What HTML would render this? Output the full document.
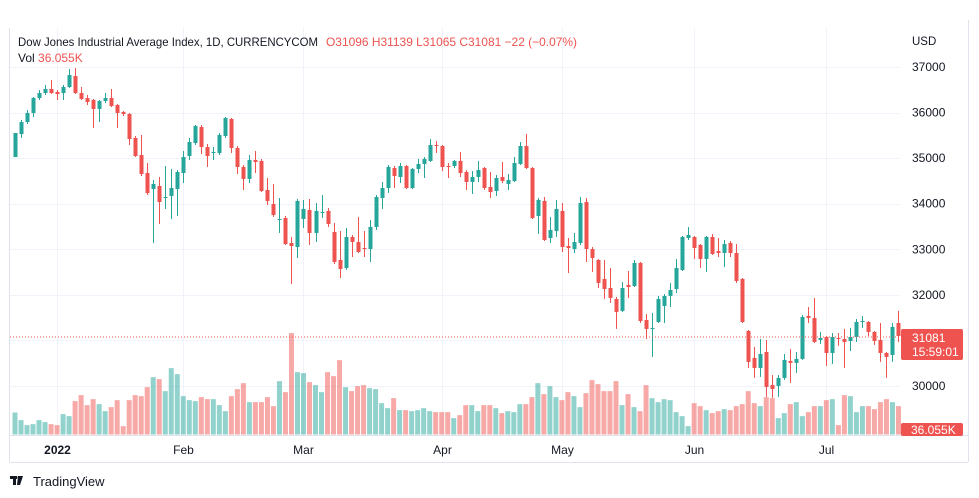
<!DOCTYPE html>
<html><head><meta charset="utf-8">
<style>
html,body{margin:0;padding:0;background:#fff;}
body{width:979px;height:498px;overflow:hidden;position:relative;font-family:"Liberation Sans",sans-serif;}
svg{position:absolute;left:0;top:0;}
</style></head>
<body>
<svg id="chart" width="979" height="498" viewBox="0 0 979 498">
  <rect x="0" y="0" width="979" height="498" fill="#ffffff"/>
  <g id="grid"></g>
  <g id="vols"></g>
  <g id="candles"></g>
  <line x1="10" y1="337" x2="901" y2="337" stroke="#ef5350" stroke-width="1" stroke-dasharray="1,2"/>
  <line x1="9.5" y1="28" x2="9.5" y2="462" stroke="#e0e3eb"/>
  <line x1="9.5" y1="435.5" x2="968" y2="435.5" stroke="#e0e3eb"/>
  <line x1="9.5" y1="462.5" x2="968" y2="462.5" stroke="#e0e3eb"/>
  <line x1="968.5" y1="20" x2="968.5" y2="462" stroke="#e0e3eb"/>
  <g id="yaxis"></g>
  <g id="xaxis"></g>
  <text x="912" y="45" font-size="11.5" fill="#131722">USD</text>
  <g>
    <rect x="901" y="329" width="62" height="31" rx="2" fill="#ef5350"/>
    <text x="912" y="342" font-size="12" fill="#fff">31081</text>
    <text x="912" y="356" font-size="12" fill="#fff">15:59:01</text>
  </g>
  <g>
    <rect x="901" y="423" width="62" height="13" rx="2" fill="#ef5350"/>
    <text x="911" y="434" font-size="12" fill="#fff">36.055K</text>
  </g>
  <g>
    <text x="18" y="46" font-size="12" fill="#131722" textLength="300" lengthAdjust="spacingAndGlyphs">Dow Jones Industrial Average Index, 1D, CURRENCYCOM</text>
    <text x="326" y="46" font-size="12" fill="#ef5350" textLength="251" lengthAdjust="spacingAndGlyphs">O31096  H31139  L31065  C31081  −22 (−0.07%)</text>
    <text x="18" y="62" font-size="12" fill="#131722">Vol <tspan fill="#ef5350">36.055K</tspan></text>
  </g>
  <g>
    <rect x="10" y="476" width="7" height="3" fill="#131722"/>
    <rect x="13" y="476" width="3" height="9" fill="#131722"/>
    <polygon points="18,476 23,476 20,485 17,485" fill="#131722"/>
    <circle cx="19" cy="477.5" r="1.5" fill="#131722"/>
    <text x="33" y="486" font-size="13" fill="#131722">TradingView</text>
  </g>
</svg>
<script>
const opens=[35025,35530,35793,35991,36319,36429,36518,36451,36429,36561,36802,36429,36319,36276,36079,36254,36319,36166,36013,35969,35442,35069,34674,34323,34389,34126,34170,34323,34674,35047,35332,35683,35244,35113,35113,35486,35859,35222,34806,34543,34960,34938,34301,33994,33643,33687,33138,33050,33665,33863,33358,33797,33841,33380,32766,32590,33270,33160,33028,33006,33490,34126,34345,34784,34587,34828,34345,34763,34872,34938,35288,35266,34828,34828,34938,34696,34477,34587,34784,34367,34279,34587,34433,34499,34872,35266,34784,33731,34060,33248,33402,33841,33072,33006,33138,34038,33006,32766,32349,32151,31910,31647,32217,32195,32700,31449,31252,31405,31756,31976,32129,32546,33248,33270,33094,32788,33270,32963,32919,33138,32919,32349,31208,30616,30396,30747,30023,30001,30177,30550,30506,30594,31537,31493,31010,31076,30725,31054,31032,30988,31076,31405,31405,31186,31010,30725,30681,31383,31096];
const highs=[35552,35837,36057,36341,36495,36605,36715,36495,36605,36956,36978,36561,36385,36298,36276,36429,36518,36188,36035,35991,35486,35508,34894,34521,34587,34828,34762,34740,35157,35442,35727,35727,35310,35244,35552,35903,35881,35266,34850,35069,35157,34982,34565,34433,34126,33731,33270,34104,34082,34104,34016,34191,33907,33577,33402,33468,33314,33709,33402,33643,34191,34477,34850,34828,34894,34850,34784,34982,35025,35420,35376,35288,34894,34960,35135,34740,34718,34938,34806,34696,34630,34916,34652,35025,35354,35530,34806,34126,34148,33709,34082,34016,33248,33358,34148,34126,33050,32788,32766,32590,31954,32283,32524,32766,32722,31581,31603,31976,32019,32261,32788,33292,33490,33292,33116,33292,33336,33248,33204,33182,33116,32371,31230,30857,31032,31010,30242,30242,30703,30813,30747,31559,31734,31932,31186,31098,31164,31164,31252,31274,31471,31537,31427,31208,31383,30747,31383,31647,31139];
const lows=[35025,35442,35749,35903,36276,36385,36407,36276,36276,36539,36407,36276,36166,35661,35793,36210,36122,35661,35925,35288,35025,34609,34191,33138,33555,33885,33665,33731,34455,34960,35288,35091,34806,34960,35069,35442,35113,34652,34301,34455,34674,34257,33972,33709,33358,33094,32239,32810,33468,33094,33160,33687,33490,32678,32371,32546,32831,32919,32831,32722,33424,33885,34235,34345,34455,34323,34323,34674,34565,34916,35113,34718,34565,34784,34587,34301,34213,34477,34301,34126,34170,34455,34301,34477,34850,34763,33665,33336,33182,33138,33270,32941,32480,32919,33094,32722,32502,32151,31910,31822,31252,31625,31932,32173,31383,31032,30638,31383,31383,31734,32041,32524,33204,32788,32590,32502,32875,32831,32612,32831,32261,31383,30396,30177,30199,29760,29738,29760,30133,30067,30286,30572,31383,30944,30922,30440,30484,30879,30396,30769,30966,31274,31098,30901,30528,30177,30528,30966,31065];
const closes=[35552,35793,35991,36319,36429,36518,36429,36407,36561,36824,36429,36298,36232,36079,36254,36319,36144,35991,35969,35420,35047,34652,34235,34433,34038,34148,34345,34696,35025,35354,35705,35244,35047,35135,35508,35881,35222,34806,34543,34960,34916,34279,34060,33753,33665,33116,33072,34060,33885,33358,33841,33819,33555,32722,32568,33270,33160,32941,33006,33490,34148,34345,34806,34608,34828,34345,34763,34872,34982,35288,35266,34806,34806,34938,34674,34477,34587,34740,34345,34257,34565,34499,34521,34894,35266,34784,33687,34082,33204,33424,33885,33050,33028,33160,34016,33006,32810,32261,32129,31932,31625,32151,32173,32700,31427,31252,31274,31910,31976,32107,32590,33270,33314,33028,32788,33270,32897,32919,33116,32919,32305,31405,30528,30396,30703,29979,29935,30177,30572,30506,30594,31515,31493,30966,31054,30725,31076,31032,30966,31076,31405,31427,31186,30988,30725,30638,31296,31098,31081];
const volumes=[242,158,103,114,158,136,114,103,224,202,367,433,323,389,334,257,301,378,92,378,433,422,521,631,609,477,730,664,422,378,367,411,389,389,323,257,422,499,565,356,356,356,411,312,587,466,1116,686,675,576,543,466,686,642,818,521,477,532,543,510,499,345,290,400,268,268,257,268,290,257,246,246,246,180,213,323,323,257,323,323,290,235,257,246,334,334,411,565,444,532,411,378,466,422,301,455,598,554,477,477,587,323,444,301,257,543,400,356,389,378,246,202,92,345,312,268,235,257,279,268,312,334,477,345,312,411,400,180,235,334,356,202,246,312,312,378,389,103,433,422,246,312,312,279,356,389,356,312,36];
const priceTicks=[30000,32000,33000,34000,35000,36000,37000];
const monthLabels=["2022","Feb","Mar","Apr","May","Jun","Jul"];
const monthStartIdx=[8,29,49,72,92,114,136];

const NS="http://www.w3.org/2000/svg";
const X0=15, STEP=6.01;
function xAt(i){return X0+(i-1)*STEP;}
function yPrice(p){return 67+(37000-p)*0.04557;}
function yVol(v){return 434.5-v/11;}
function mk(tag,attrs,parent){const e=document.createElementNS(NS,tag);for(const k in attrs)e.setAttribute(k,attrs[k]);parent.appendChild(e);return e;}

const grid=document.getElementById('grid');
const yaxis=document.getElementById('yaxis');
const xaxis=document.getElementById('xaxis');
const gridPrices=[30000,31000,32000,33000,34000,35000,36000,37000];
gridPrices.forEach(p=>{
  const y=Math.round(yPrice(p))+0.5;
  const l=mk('line',{x1:10,x2:900,y1:y,y2:y,stroke:'#f0f3fa','stroke-width':1},grid);
  
  
});
priceTicks.forEach(p=>{
  const t=mk('text',{x:912,y:yPrice(p)+4,'font-size':12,fill:'#131722'},yaxis);
  t.textContent=String(p);
  
  
});
monthStartIdx.forEach((idx,k)=>{
  const x=Math.round(xAt(idx))+0.5;
  const l=mk('line',{x1:x,x2:x,y1:28,y2:435,stroke:'#f0f3fa','stroke-width':1},grid);
  
  
  const t=mk('text',{x:x,y:454,'font-size':12,fill:'#131722','text-anchor':'middle','font-weight':k===0?'bold':'normal'},xaxis);
  t.textContent=monthLabels[k];
  
  
});

const vg=document.getElementById('vols');
const cg=document.getElementById('candles');
const clip=mk('clipPath',{id:'plotclip'},document.getElementById('chart'));
mk('rect',{x:10,y:28,width:891,height:408},clip);
vg.setAttribute('clip-path','url(#plotclip)');
cg.setAttribute('clip-path','url(#plotclip)');
for(let i=0;i<opens.length;i++){
  const o=opens[i],h=highs[i],l=lows[i],c=closes[i];
  const up=c>=o;
  const x=xAt(i+1);
  const vt=yVol(volumes[i]);
  const vb=mk('rect',{x:x-2.5,y:vt,width:5,height:Math.max(0.5,434.5-vt),fill:up?'rgba(38,166,154,0.5)':'rgba(239,83,80,0.5)'},vg);
  
  
  const col=up?'#26a69a':'#ef5350';
  const g=mk('g',{},cg);
  
  
  mk('line',{x1:Math.round(x)+0.5,x2:Math.round(x)+0.5,y1:yPrice(h),y2:yPrice(l),stroke:col,'stroke-width':1},g);
  const t=yPrice(Math.max(o,c)),b=yPrice(Math.min(o,c));
  mk('rect',{x:Math.round(x)-1.5,y:t,width:4,height:Math.max(1,b-t),fill:col},g);
}
</script>
</body></html>
